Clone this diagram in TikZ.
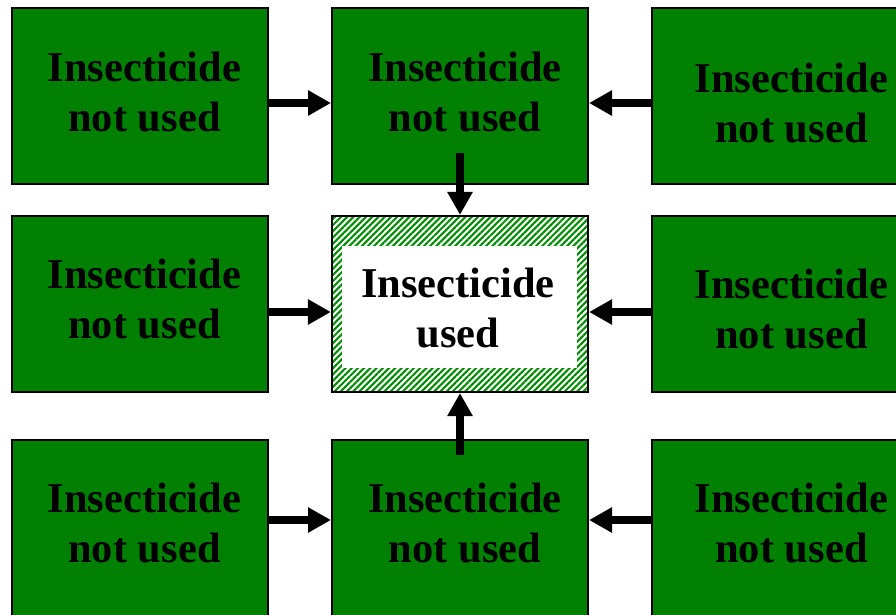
\documentclass[tikz,border=0pt]{standalone}
\usepackage{fontspec}
\setmainfont{Liberation Serif}
\usetikzlibrary{arrows.meta,patterns.meta}
\definecolor{boxgreen}{RGB}{0,128,0}
\definecolor{hatchgreen}{RGB}{0,140,0}
\newcommand{\notused}{\begin{tabular}[t]{@{}c@{}}Insecticide\\not used\end{tabular}}
\begin{document}
\begin{tikzpicture}[x=1pt,y=-1pt,
  box/.style={draw=black, line width=2pt, fill=boxgreen, minimum width=256pt, minimum height=176pt, inner sep=0pt},
  centerbox/.style={draw=black, line width=2pt, pattern={Lines[angle=45,distance=4.4pt,line width=2.1pt]}, pattern color=hatchgreen, minimum width=256pt, minimum height=176pt, inner sep=0pt},
  lbl/.style={anchor=base, inner sep=0pt, font=\fontsize{42.5}{50.5}\selectfont\bfseries},
  arr/.style={line width=7.7pt, -{Triangle[length=23pt,width=24pt]}}]
\useasboundingbox (0,0) rectangle (896,614);
% boxes
\node[box] (L1) at (140,96) {};
\node[box] (M1) at (460,96) {};
\node[box] (R1) at (780,96) {};
\node[box] (L2) at (140,304) {};
\node[centerbox] (C) at (460,304) {};
\node[fill=white, minimum width=235pt, minimum height=122pt, inner sep=0pt] (Cin) at (459.5,307) {};
\node[box] (R2) at (780,304) {};
\node[box] (L3) at (140,528) {};
\node[box] (M3) at (460,528) {};
\node[box] (R3) at (780,528) {};
% labels
\node[lbl] (L1t) at (144.5,81) {\notused};
\node[lbl] (M1t) at (465,81) {\notused};
\node[lbl] (R1t) at (791.5,92) {\notused};
\node[lbl] (L2t) at (144.5,288) {\notused};
\node[lbl] (Ct) at (458,297) {\begin{tabular}[t]{@{}c@{}}Insecticide\\used\end{tabular}};
\node[lbl] (R2t) at (791.5,298) {\notused};
\node[lbl] (L3t) at (144.5,512) {\notused};
\node[lbl] (M3t) at (465,512) {\notused};
\node[lbl] (R3t) at (791.5,512) {\notused};
% arrows
\draw[arr] ([yshift=-7pt]L1.east) -- ([yshift=-7pt]M1.west);
\draw[arr] ([yshift=-7pt]R1.west) -- ([yshift=-7pt]M1.east);
\draw[arr] ([yshift=32pt]M1.south) -- (C.north);
\draw[arr] ([yshift=-8pt]L2.east) -- ([yshift=-8pt]C.west);
\draw[arr] ([yshift=-8pt]R2.west) -- ([yshift=-8pt]C.east);
\draw[arr] ([yshift=-16pt]M3.north) -- (C.south);
\draw[arr] ([yshift=8pt]L3.east) -- ([yshift=8pt]M3.west);
\draw[arr] ([yshift=8pt]R3.west) -- ([yshift=8pt]M3.east);
\end{tikzpicture}
\end{document}
